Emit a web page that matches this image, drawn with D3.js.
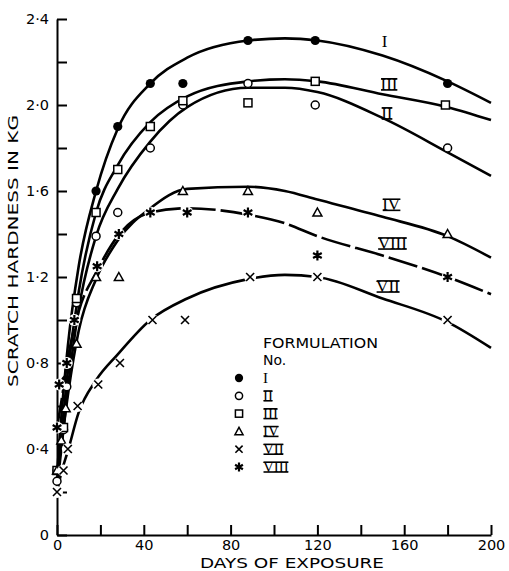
<!DOCTYPE html>
<html>
<head>
<meta charset="utf-8">
<script src="https://cdn.jsdelivr.net/npm/d3@7"></script>
<style>
    body { margin: 0; background: #fff; }
    .axis path, .axis line { stroke: #000; stroke-width: 2; }
    .axis text { font-family: "DejaVu Sans", sans-serif; font-size: 14.5px; fill: #000; }
    .title { font-family: "DejaVu Sans", sans-serif; font-size: 14px; fill: #000; }
    .roman { font-family: "Liberation Serif", serif; fill: #000; }
</style>
</head>
<body>
<script>
//measured points, days of exposure and scratch hardness (kg)
var daysI = [0, 2, 4, 9, 18, 28, 43, 58, 88, 119, 180],
    hardI = [0.3, 0.5, 0.72, 1.1, 1.6, 1.9, 2.1, 2.1, 2.3, 2.3, 2.1];
var daysII = [0, 3, 4.5, 9, 18, 28, 43, 58, 88, 119, 180],
    hardII = [0.25, 0.49, 0.69, 1.08, 1.39, 1.5, 1.8, 2.0, 2.1, 2.0, 1.8];
var daysIII = [0, 3, 9, 18, 28, 43, 58, 88, 119, 179],
    hardIII = [0.3, 0.5, 1.1, 1.5, 1.7, 1.9, 2.02, 2.01, 2.11, 2.0];
var daysIV = [0, 2, 4, 9, 18, 28.5, 58, 88, 120, 180],
    hardIV = [0.3, 0.44, 0.59, 0.89, 1.2, 1.2, 1.6, 1.6, 1.5, 1.4];
var daysVII = [0, 3, 5, 9.5, 19, 29, 44, 59, 89, 120, 180],
    hardVII = [0.2, 0.3, 0.4, 0.6, 0.7, 0.8, 1.0, 1.0, 1.2, 1.2, 1.0];
var daysVIII = [0, 1, 4.5, 8, 18.5, 28.5, 43, 60, 88, 120, 180],
    hardVIII = [0.5, 0.7, 0.8, 1.0, 1.25, 1.4, 1.5, 1.5, 1.5, 1.3, 1.2];

//fitted curves
var fitDays = [0, 2, 5, 10, 18, 28, 43, 60, 88, 105, 120, 150, 180, 200];
var fitI = [0.28, 0.55, 0.88, 1.25, 1.6, 1.89, 2.1, 2.22, 2.3, 2.31, 2.3, 2.23, 2.11, 2.01],
    fitII = [0.22, 0.4, 0.68, 1.05, 1.39, 1.61, 1.83, 1.99, 2.08, 2.08, 2.06, 1.94, 1.78, 1.67],
    fitIII = [0.25, 0.46, 0.76, 1.13, 1.5, 1.72, 1.92, 2.04, 2.11, 2.12, 2.11, 2.05, 1.99, 1.93],
    fitIV = [0.28, 0.42, 0.65, 0.95, 1.19, 1.37, 1.52, 1.61, 1.62, 1.6, 1.56, 1.48, 1.39, 1.29],
    fitVII = [0.2, 0.29, 0.39, 0.57, 0.72, 0.84, 1.0, 1.1, 1.19, 1.21, 1.2, 1.1, 0.99, 0.87],
    fitVIII = [0.5, 0.62, 0.82, 1.04, 1.22, 1.39, 1.5, 1.52, 1.49, 1.45, 1.39, 1.3, 1.2, 1.12];

//formulation names and where the curve labels sit (days, kg)
var names = ["I", "II", "III", "IV", "VII", "VIII"];
var labelDays = [151, 152, 153, 154, 152.5, 154.5],
    labelHard = [2.27, 1.935, 2.07, 1.51, 1.13, 1.33];

//tick values
var xTicks = d3.range(0, 11).map(function(i){ return i * 20; }),
    yTicks = d3.range(0, 13).map(function(i){ return i * 0.2; });

window.onload = drawChart();

function drawChart(){

    var width = 509,
        height = 571;

    var svg = d3.select("body")
        .append("svg")
        .attr("width", width)
        .attr("height", height);

    var x = d3.scaleLinear().domain([0, 200]).range([57, 491]);
    var y = d3.scaleLinear().domain([0, 2.4]).range([535, 19]);

    //axes, ticks pointing inwards
    svg.append("g")
        .attr("class", "axis")
        .attr("transform", "translate(0,535)")
        .call(d3.axisBottom(x)
            .tickValues(xTicks)
            .tickSize(-10)
            .tickSizeOuter(0)
            .tickPadding(5)
            .tickFormat(function(d){ return d % 40 === 0 ? d : ""; }));

    svg.append("g")
        .attr("class", "axis")
        .attr("transform", "translate(57,0)")
        .call(d3.axisLeft(y)
            .tickValues(yTicks)
            .tickSize(-10)
            .tickSizeOuter(0)
            .tickPadding(8)
            .tickFormat(function(d, i){
                if (i % 2) return "";
                return i === 0 ? "0" : d.toFixed(1).replace(".", "\u00b7");
            }));

    //axis titles
    svg.append("text")
        .attr("class", "title")
        .attr("font-size", 15)
        .attr("transform", "translate(18,251) rotate(-90)")
        .attr("text-anchor", "middle")
        .attr("textLength", 272)
        .attr("lengthAdjust", "spacingAndGlyphs")
        .text("SCRATCH HARDNESS IN KG");

    svg.append("text")
        .attr("class", "title")
        .attr("x", 292)
        .attr("y", 568)
        .attr("text-anchor", "middle")
        .attr("textLength", 184)
        .attr("lengthAdjust", "spacingAndGlyphs")
        .text("DAYS OF EXPOSURE");

    //curves
    var fits = [fitI, fitII, fitIII, fitIV, fitVII, fitVIII];
    var dashes = [null, null, null, null, null, "30,5"];
    var line = d3.line()
        .x(function(d){ return x(d[0]); })
        .y(function(d){ return y(d[1]); })
        .curve(d3.curveMonotoneX);

    fits.forEach(function(f, i){
        svg.append("path")
            .datum(fitDays.map(function(d, j){ return [d, f[j]]; }))
            .attr("d", line)
            .attr("fill", "none")
            .attr("stroke", "#000")
            .attr("stroke-width", 2.6)
            .attr("stroke-dasharray", dashes[i]);
    });

    //marker shapes
    var symbols = ["dot", "circle", "square", "triangle", "cross", "star"];
    function marker(g, kind, cx, cy, s){
        s = s || 1;
        if (kind === "dot"){
            g.append("circle").attr("cx", cx).attr("cy", cy).attr("r", 4.6 * s).attr("fill", "#000");
        } else if (kind === "circle"){
            g.append("circle").attr("cx", cx).attr("cy", cy).attr("r", 4 * s)
                .attr("fill", "#fff").attr("stroke", "#000").attr("stroke-width", 1.5);
        } else if (kind === "square"){
            g.append("rect").attr("x", cx - 4 * s).attr("y", cy - 4 * s)
                .attr("width", 8 * s).attr("height", 8 * s)
                .attr("fill", "#fff").attr("stroke", "#000").attr("stroke-width", 1.5);
        } else if (kind === "triangle"){
            var h = 4.5 * s;
            g.append("path")
                .attr("d", "M" + cx + "," + (cy - h) + "L" + (cx + h) + "," + (cy + h * 0.8) + "L" + (cx - h) + "," + (cy + h * 0.8) + "Z")
                .attr("fill", "#fff").attr("stroke", "#000").attr("stroke-width", 1.5);
        } else if (kind === "cross"){
            var c = 4 * s;
            g.append("circle").attr("cx", cx).attr("cy", cy).attr("r", 6 * s).attr("fill", "#fff");
            g.append("path")
                .attr("d", "M" + (cx - c) + "," + (cy - c) + "L" + (cx + c) + "," + (cy + c) + "M" + (cx + c) + "," + (cy - c) + "L" + (cx - c) + "," + (cy + c))
                .attr("stroke", "#000").attr("stroke-width", 1.6);
        } else {
            var a = 5 * s, b = a * 0.87, hh = a * 0.5;
            g.append("circle").attr("cx", cx).attr("cy", cy).attr("r", 6 * s).attr("fill", "#fff");
            g.append("path")
                .attr("d", "M" + cx + "," + (cy - a) + "L" + cx + "," + (cy + a) +
                    "M" + (cx - b) + "," + (cy - hh) + "L" + (cx + b) + "," + (cy + hh) +
                    "M" + (cx - b) + "," + (cy + hh) + "L" + (cx + b) + "," + (cy - hh))
                .attr("stroke", "#000").attr("stroke-width", 2.2);
        }
    }

    //points
    var series = [[daysI, hardI], [daysII, hardII], [daysIII, hardIII],
                  [daysIV, hardIV], [daysVII, hardVII], [daysVIII, hardVIII]];
    var pts = svg.append("g");
    series.forEach(function(s, i){
        s[0].forEach(function(d, j){
            marker(pts, symbols[i], x(d), y(s[1][j]));
        });
    });

    //roman numeral with bars above and below, like the original lettering
    function roman(txt, cx, base, size, anchor){
        var t = svg.append("text")
            .attr("class", "roman")
            .attr("x", cx)
            .attr("y", base)
            .attr("text-anchor", anchor)
            .attr("font-size", size)
            .text(txt);
        if (txt === "I") return;
        var bb = t.node().getBBox(),
            cap = size * 0.655;
        [base - cap, base].forEach(function(yy){
            svg.append("line")
                .attr("x1", bb.x + 0.5).attr("x2", bb.x + bb.width - 0.5)
                .attr("y1", yy).attr("y2", yy)
                .attr("stroke", "#000").attr("stroke-width", 1.6);
        });
    }

    //curve labels
    names.forEach(function(n, i){
        roman(n, x(labelDays[i]), y(labelHard[i]), 17, "middle");
    });

    //legend
    svg.append("text").attr("class", "title").attr("x", 263).attr("y", 348)
        .attr("font-size", 13.5)
        .attr("textLength", 115).attr("lengthAdjust", "spacingAndGlyphs")
        .text("FORMULATION");
    svg.append("text").attr("class", "title").attr("x", 263).attr("y", 365)
        .attr("font-size", 13.5)
        .text("No.");

    names.forEach(function(n, i){
        var base = 383 + i * 17.8;
        marker(svg, symbols[i], 239, base - 5, 0.9);
        roman(n, 263, base, 15, "start");
    });
}
</script>
</body>
</html>
